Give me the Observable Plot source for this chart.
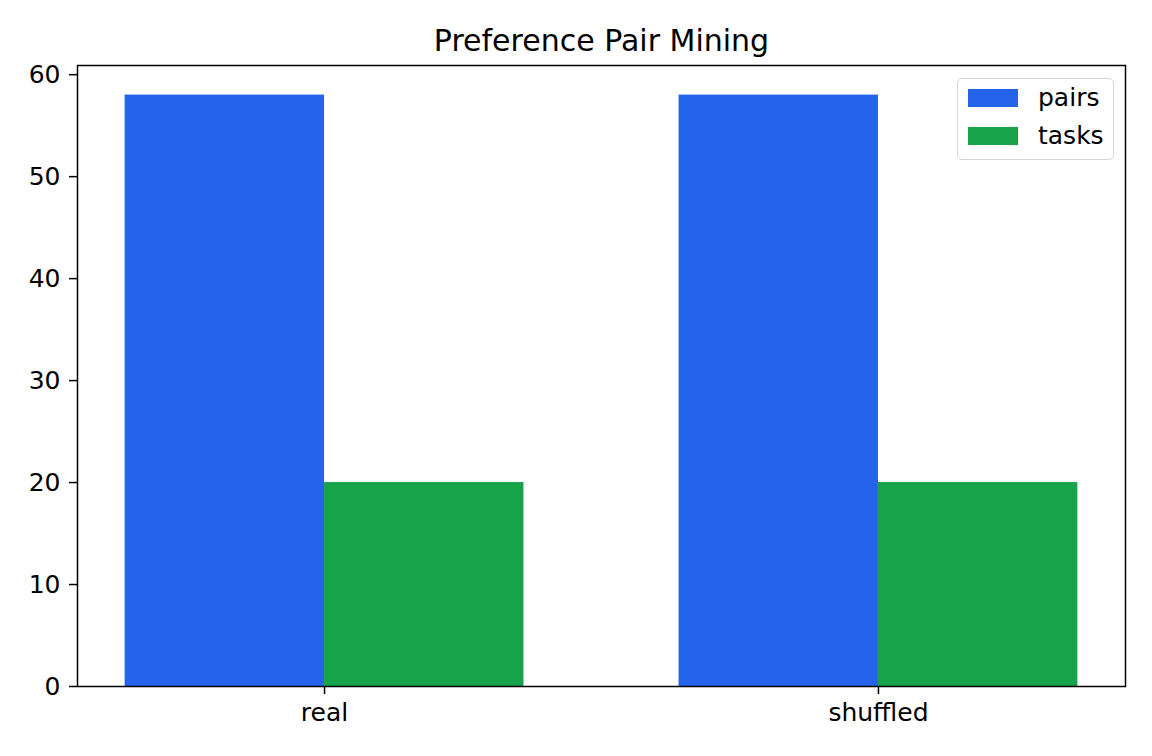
<!DOCTYPE html>
<html><head><meta charset="utf-8">
<script src="https://cdn.jsdelivr.net/npm/d3@7"></script>
<script src="https://cdn.jsdelivr.net/npm/@observablehq/plot@0.6"></script>
<style>
body{margin:0;background:#fff;font-family:"DejaVu Sans",sans-serif;}
#wrap{position:relative;width:1152px;height:756px;}
#legend{position:absolute;left:957px;top:78px;width:157px;height:82px;border:1.5px solid #d6d6d6;border-radius:5px;box-sizing:border-box;background:rgba(255,255,255,0.8);font-family:"DejaVu Sans",sans-serif;font-size:25px;}
.item{position:absolute;left:10px;display:flex;align-items:center;}
.sw{width:50px;height:18px;margin-right:20px;}
</style></head>
<body><div id="wrap"><div id="chart"></div><div id="legend"></div></div>
<script>
const categories = ["real", "shuffled"];
const series = ["pairs", "tasks"];
const pairs = [58, 58];
const tasks = [20, 20];
const colors = ["#2563eb", "#16a34a"];
const yTicks = [0, 10, 20, 30, 40, 50, 60];
const barWidth = 0.36;

const rows = [];
categories.forEach((c, i) => {
  [pairs, tasks].forEach((vals, j) => {
    rows.push({cat: c, series: series[j], x1: i - barWidth + j * barWidth, x2: i + j * barWidth, y: vals[i]});
  });
});

const ymax = Math.max(...pairs, ...tasks) * 1.05;
const span = (categories.length - 1) + 2 * barWidth;
const pad = span * 0.05;

const chart = Plot.plot({
  width: 1152, height: 756,
  marginLeft: 77, marginRight: 27, marginTop: 65, marginBottom: 70,
  style: {fontFamily: "DejaVu Sans, sans-serif", fontSize: "25px", color: "#000", background: "#fff"},
  x: {type: "linear", domain: [-barWidth - pad, categories.length - 1 + barWidth + pad], label: null},
  y: {domain: [0, ymax], label: null},
  color: {domain: series, range: colors},
  marks: [
    Plot.rectY(rows, {x1: "x1", x2: "x2", y1: 0, y2: "y", fill: "series"}),
    Plot.axisX({ticks: categories.map((_, i) => i), tickFormat: i => categories[i], tickSize: 8, tickPadding: 9, fontSize: 25, strokeWidth: 1.5, label: null}),
    Plot.axisY({ticks: yTicks, tickSize: 8, tickPadding: 9, fontSize: 25, strokeWidth: 1.5, label: null}),
    Plot.frame({stroke: "#000", strokeWidth: 1.5}),
    Plot.text(["Preference Pair Mining"], {frameAnchor: "top", lineAnchor: "bottom", dy: -15, fontSize: 30, fill: "#000"})
  ]
});
document.getElementById("chart").appendChild(chart);

const leg = document.getElementById("legend");
series.forEach((s, j) => {
  const d = document.createElement("div");
  d.className = "item";
  d.style.top = (4 + j * 38) + "px";
  d.innerHTML = `<div class="sw" style="background:${colors[j]}"></div><span>${s}</span>`;
  leg.appendChild(d);
});
</script></body></html>
